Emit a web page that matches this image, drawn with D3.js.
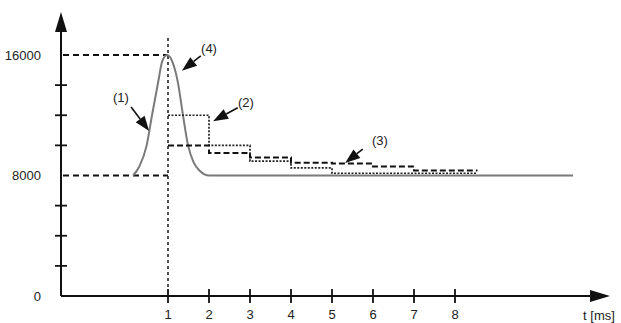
<!DOCTYPE html>
<html>
<head>
<meta charset="utf-8">
<script src="https://cdn.jsdelivr.net/npm/d3@7.9.0/dist/d3.min.js"></script>
<style>
  html, body { margin: 0; padding: 0; background: #fff; }
  svg text { font-family: "Liberation Sans", Arial, sans-serif; font-size: 13px; fill: #222; }
</style>
</head>
<body>
<svg id="chart" width="621" height="323"></svg>
<script>
// values
const yTicks = [0, 2000, 4000, 6000, 8000, 10000, 12000, 14000, 16000];
const yLabels = [0, 8000, 16000];
const xTicks = [1, 2, 3, 4, 5, 6, 7, 8];

// (1) pressure pulse
const pulseT = [0.15, 0.3, 0.48, 0.61, 0.76, 0.86, 0.98, 1.1, 1.24, 1.36, 1.49, 1.62, 1.78, 2.0, 10.88];
const pulseV = [8000, 8600, 10000, 12000, 14200, 15600, 16000, 15600, 14200, 12100, 10000, 8900, 8300, 8000, 8000];

// step series, one value per ms interval
const stepT = [1, 2, 3, 4, 5, 6, 7, 8.55];
const dottedV = [12000, 10000, 8950, 8500, 8150, 8150, 8150];   // (2)
const dashedV = [10000, 9500, 9200, 8850, 8800, 8600, 8330];    // (3)

const peakT = 1, peakV = 16000, baseV = 8000;

// annotations: label position and arrow (in data units)
const notes = [
  { text: '(1)', lt: -0.15, lv: 13150, ft: 0.1, fv: 12550, tt: 0.54, tv: 10950 },
  { text: '(4)', lt: 2.0, lv: 16450, ft: 1.8, fv: 15950, tt: 1.34, tv: 14950 },
  { text: '(2)', lt: 2.9, lv: 12870, ft: 2.7, fv: 12500, tt: 2.1, tv: 11600 },
  { text: '(3)', lt: 6.17, lv: 10350, ft: 5.75, fv: 9750, tt: 5.32, tv: 8830 }
];

const svg = d3.select('#chart');
const x = d3.scaleLinear().domain([0, 8]).range([127, 455]);
const y = d3.scaleLinear().domain([0, 16000]).range([296, 55]);
const axisX = 61;
const xEnd = 610, yTop = 12;

// axes
svg.append('line').attr('x1', axisX).attr('x2', xEnd - 14).attr('y1', y(0)).attr('y2', y(0))
  .attr('stroke', '#111').attr('stroke-width', 2);
svg.append('path').attr('d', `M${xEnd},${y(0)} L${xEnd - 20},${y(0) - 6} L${xEnd - 20},${y(0) + 6} Z`).attr('fill', '#111');
svg.append('line').attr('x1', axisX).attr('x2', axisX).attr('y1', y(0)).attr('y2', yTop + 14)
  .attr('stroke', '#111').attr('stroke-width', 2);
svg.append('path').attr('d', `M${axisX},${yTop} L${axisX - 6},${yTop + 20} L${axisX + 6},${yTop + 20} Z`).attr('fill', '#111');

svg.selectAll('.ytick').data(yTicks.filter(d => d > 0 && d !== 8000 && d !== 16000)).enter().append('line')
  .attr('x1', axisX - 6).attr('x2', axisX + 6).attr('y1', d => y(d)).attr('y2', d => y(d))
  .attr('stroke', '#111').attr('stroke-width', 1.8);
svg.selectAll('.ylab').data(yLabels).enter().append('text')
  .attr('x', 41).attr('y', d => y(d)).attr('dy', '0.35em').attr('text-anchor', 'end').text(d => d);

svg.selectAll('.xtick').data(xTicks).enter().append('line')
  .attr('x1', d => x(d)).attr('x2', d => x(d)).attr('y1', y(0) - 7).attr('y2', y(0) + 7)
  .attr('stroke', '#111').attr('stroke-width', 1.8);
svg.selectAll('.xlab').data(xTicks).enter().append('text')
  .attr('x', d => x(d)).attr('y', 319).attr('text-anchor', 'middle').text(d => d);
svg.append('text').attr('x', 599).attr('y', 320).attr('text-anchor', 'middle').text('t [ms]');

// reference lines
svg.append('line').attr('x1', axisX + 2).attr('x2', x(peakT)).attr('y1', y(peakV)).attr('y2', y(peakV))
  .attr('stroke', '#111').attr('stroke-width', 1.8).attr('stroke-dasharray', '6,4');
svg.append('line').attr('x1', axisX + 2).attr('x2', x(peakT)).attr('y1', y(baseV)).attr('y2', y(baseV))
  .attr('stroke', '#111').attr('stroke-width', 1.8).attr('stroke-dasharray', '6,4');
svg.append('line').attr('x1', x(peakT)).attr('x2', x(peakT)).attr('y1', 38).attr('y2', y(0))
  .attr('stroke', '#222').attr('stroke-width', 1.6).attr('stroke-dasharray', '3,3');

// (1) pulse
const pulse = pulseT.map((t, i) => [t, pulseV[i]]);
svg.append('path').datum(pulse)
  .attr('d', d3.line().x(d => x(d[0])).y(d => y(d[1])).curve(d3.curveMonotoneX))
  .attr('fill', 'none').attr('stroke', '#7a7a7a').attr('stroke-width', 2);

// step series
function steps(vals) {
  const pts = vals.map((v, i) => [stepT[i], v]);
  pts.push([stepT[stepT.length - 1], vals[vals.length - 1]]);
  return pts;
}
const stepLine = d3.line().x(d => x(d[0])).y(d => y(d[1])).curve(d3.curveStepAfter);
svg.append('path').datum(steps(dottedV)).attr('d', stepLine)
  .attr('fill', 'none').attr('stroke', '#222').attr('stroke-width', 1.7).attr('stroke-dasharray', '2,1.5');
svg.append('path').datum(steps(dashedV)).attr('d', stepLine)
  .attr('fill', 'none').attr('stroke', '#111').attr('stroke-width', 2).attr('stroke-dasharray', '6,3');

// annotations
notes.forEach(n => {
  const x1 = x(n.ft), y1 = y(n.fv), x2 = x(n.tt), y2 = y(n.tv);
  const ang = Math.atan2(y2 - y1, x2 - x1);
  const len = 15, w = 5.5;
  const bx = x2 - len * Math.cos(ang), by = y2 - len * Math.sin(ang);
  svg.append('line').attr('x1', x1).attr('y1', y1).attr('x2', bx).attr('y2', by)
    .attr('stroke', '#111').attr('stroke-width', 1.6);
  svg.append('path')
    .attr('d', `M${x2},${y2} L${bx + w * Math.sin(ang)},${by - w * Math.cos(ang)} L${bx - w * Math.sin(ang)},${by + w * Math.cos(ang)} Z`)
    .attr('fill', '#111');
  svg.append('text').attr('x', x(n.lt)).attr('y', y(n.lv)).attr('dy', '0.35em')
    .attr('text-anchor', 'middle').text(n.text);
});
</script>
</body>
</html>
